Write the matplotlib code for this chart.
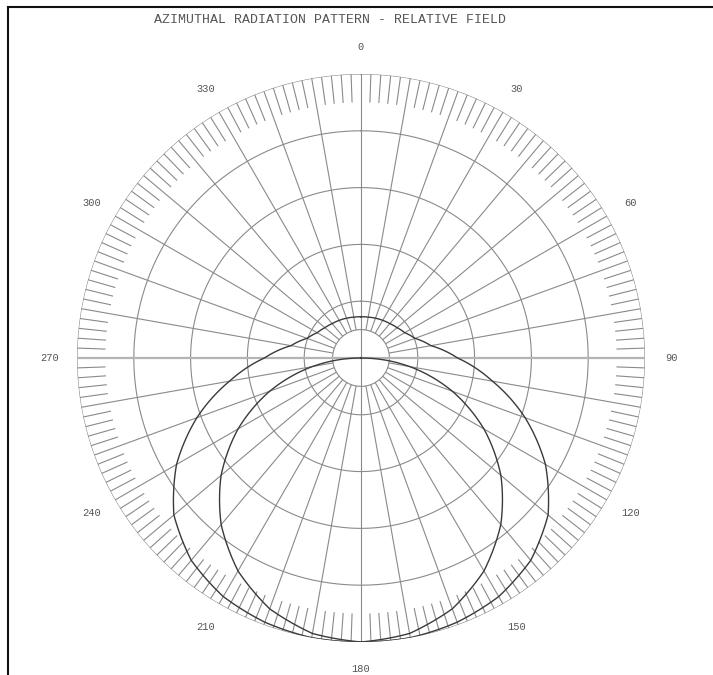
import numpy as np
import matplotlib
matplotlib.use("Agg")
import matplotlib.pyplot as plt

# relative field vs azimuth (deg, clockwise from north), symmetric about 0-180
half_angles = [0, 10, 20, 30, 40, 50, 60, 70, 80, 90, 100, 110, 120, 130, 140, 150, 160, 170, 180]
wide_field = [0.145, 0.146, 0.149, 0.153, 0.158, 0.166, 0.178, 0.202, 0.25, 0.34, 0.47,
              0.615, 0.75, 0.86, 0.93, 0.97, 0.99, 1.0, 1.0]
# second pattern: circular lobe toward 180
lobe_angles = [90, 100, 110, 120, 130, 140, 150, 160, 170, 180]
lobe_field = [0.0, 0.174, 0.342, 0.5, 0.643, 0.766, 0.866, 0.94, 0.985, 1.0]

label_angles = list(range(0, 360, 30))
title = "AZIMUTHAL RADIATION PATTERN - RELATIVE FIELD"

grid_col = "#8a8a8a"
line_col = "#3a3a3a"
txt_col = "#555555"
font = "Liberation Mono"

fig = plt.figure(figsize=(7.13, 6.75), dpi=100)
ax = fig.add_axes([0.108, 0.0489, 0.7966, 0.8415], projection="polar")
ax.set_theta_zero_location("N")
ax.set_theta_direction(-1)
ax.set_ylim(0, 1)
ax.grid(False)
ax.set_xticks([])
ax.set_yticks([])
ax.spines["polar"].set_visible(False)
ax.patch.set_alpha(0)

full = np.linspace(0, 2 * np.pi, 721)
for r in [0.1, 0.2, 0.4, 0.6, 0.8, 1.0]:
    ax.plot(full, np.full_like(full, r), color=grid_col, lw=0.8)

# radial spokes every 10 deg, main axes run through the centre
spokes = np.arange(0, 360, 10)
other = [a for a in spokes if a % 90 != 0]
ax.vlines(np.radians(other), 0.1, 1.0, color=grid_col, lw=0.8)
ax.vlines(np.radians([0, 180]), 0, 1.0, color=grid_col, lw=0.8)
ax.vlines(np.radians([90, 270]), 0, 1.0, color="#b4b4b4", lw=1.6)

# 2 deg ticks on the rim
ticks = [a for a in range(0, 360, 2) if a % 10 != 0]
ax.vlines(np.radians(ticks), 0.9, 1.0, color=grid_col, lw=0.8)


def pattern(angles, field):
    a = np.array(angles + [360 - v for v in angles[::-1][1:]])
    f = np.array(field + field[::-1][1:])
    ln, = ax.plot(np.radians(a), f, color=line_col, lw=1.0)
    # follow the polar scale between samples instead of straight chords
    ln.get_path()._interpolation_steps = 40
    return ln


pattern(half_angles, wide_field)
pattern(lobe_angles, lobe_field)

for a in label_angles:
    ax.text(np.radians(a), 1.095, str(a), ha="center", va="center",
            fontsize=7.5, family=font, color=txt_col)

fig.text(330 / 713, 1 - 20 / 675, title, ha="center", va="center",
         fontsize=9.5, family=font, color=txt_col)

# frame edges along top and left
fig.add_artist(plt.Line2D([8 / 713, 8 / 713], [0, 1 - 7 / 675], transform=fig.transFigure,
                          color="#111111", lw=1.5))
fig.add_artist(plt.Line2D([8 / 713, 1], [1 - 7 / 675, 1 - 7 / 675], transform=fig.transFigure,
                          color="#111111", lw=1.5))

fig.savefig("out.png", dpi=100, facecolor="white")
